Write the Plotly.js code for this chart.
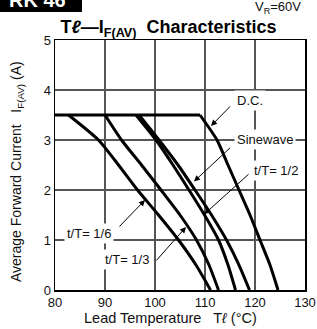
<!DOCTYPE html>
<html>
<head>
<meta charset="utf-8">
<script src="https://cdn.plot.ly/plotly-3.0.1.min.js"></script>
<style>html,body{margin:0;padding:0;background:#fff;}#chart{width:317px;height:329px;}</style>
</head>
<body>
<div id="chart"></div>
<script>
// Curve data (lead temperature °C vs IF(AV) A)
const flatX = [80, 109];
const flatY = [3.5, 3.5];
const dcX   = [109, 112.4, 114.6, 116.8, 119.0, 121.0, 123.0, 124.6];
const dcY   = [3.5, 3.0, 2.5, 2.0, 1.5, 1.0, 0.5, 0];
const sineX = [96.8, 100.8, 104.6, 108.0, 111.3, 114.3, 116.8, 118.9];
const sineY = [3.5, 3.0, 2.5, 2.0, 1.5, 1.0, 0.5, 0];
const halfX = [96.2, 100.2, 103.6, 106.8, 109.9, 112.7, 114.6, 116.1];
const halfY = [3.5, 3.0, 2.5, 2.0, 1.5, 1.0, 0.5, 0];
const thirdX = [90.0, 93.3, 97.3, 101.2, 105.0, 108.3, 110.8, 112.7];
const thirdY = [3.5, 3.0, 2.5, 2.0, 1.5, 1.0, 0.5, 0];
const sixthX = [82.7, 88.7, 92.7, 96.5, 100.7, 104.7, 108.2, 111.1];
const sixthY = [3.5, 3.0, 2.5, 2.0, 1.5, 1.0, 0.5, 0];

const seriesNames = ["D.C.", "Sinewave", "t/T= 1/2", "t/T= 1/3", "t/T= 1/6"];
const xTicks = [80, 90, 100, 110, 120, 130];
const yTicks = [0, 1, 2, 3, 4, 5];
const xTitle = 'Lead Temperature   T<i>ℓ</i> (°C)';
const yTitle = 'Average Forward Current   I<sub>F(AV)</sub> (A)';

// label text position [x, y] and arrow tail/tip [x0, y0, x1, y1]
const labelPos = [[119.0, 3.8], [122.0, 3.02], [124.2, 2.40], [94.4, 0.62], [86.8, 1.14]];
const arrows = [
  [115.3, 3.70, 111.2, 3.28],
  [115.3, 2.87, 107.8, 2.17],
  [119.0, 2.34, 109.9, 1.52],
  [100.0, 0.56, 106.2, 1.26],
  [92.6, 1.24, 98.0, 1.80]
];

const FONT = "Liberation Sans, Arial, Helvetica, sans-serif";
const xs = [dcX, sineX, halfX, thirdX, sixthX];
const ys = [dcY, sineY, halfY, thirdY, sixthY];

const traces = [{
  x: flatX, y: flatY, name: 'limit', type: 'scatter', mode: 'lines',
  line: {color: '#000', width: 3}, hoverinfo: 'skip', showlegend: false
}].concat(xs.map((x, i) => ({
  x: x, y: ys[i], name: seriesNames[i], type: 'scatter', mode: 'lines',
  line: {color: '#000', width: 3, shape: 'spline', smoothing: 0.6},
  hoverinfo: 'skip', showlegend: false
})));

const annotations = [];
labelPos.forEach((p, i) => {
  annotations.push({
    x: p[0], y: p[1], xref: 'x', yref: 'y', text: seriesNames[i], showarrow: false,
    font: {family: FONT, size: 13, color: '#111'}, bgcolor: '#fff', borderpad: 2
  });
});
arrows.forEach(a => {
  annotations.push({
    x: a[2], y: a[3], ax: a[0], ay: a[1], xref: 'x', yref: 'y', axref: 'x', ayref: 'y',
    text: '', showarrow: true, arrowhead: 2, arrowsize: 1.2, arrowwidth: 1, arrowcolor: '#000'
  });
});
annotations.push({
  xref: 'paper', yref: 'paper', x: 0.992, y: 1.13, xanchor: 'right', yanchor: 'middle',
  text: 'V<sub>R</sub>=60V', showarrow: false,
  font: {family: FONT, size: 13, color: '#111'}
});
annotations.push({
  xref: 'paper', yref: 'paper', x: -0.07, y: 1.16, xanchor: 'center', yanchor: 'middle',
  text: '<b>RK 46</b>', showarrow: false, font: {family: FONT, size: 20, color: '#fff'}
});
// axis titles, placed where the reference puts them
annotations.push({
  xref: 'paper', yref: 'paper', x: 0.46, y: -0.112, xanchor: 'center', yanchor: 'middle',
  text: xTitle, showarrow: false, font: {family: FONT, size: 14.5, color: '#111'}
});
annotations.push({
  xref: 'paper', yref: 'paper', x: -0.152, y: 0.472, xanchor: 'center', yanchor: 'middle',
  textangle: -90, text: yTitle, showarrow: false, font: {family: FONT, size: 14, color: '#111'}
});

const layout = {
  width: 317, height: 329,
  margin: {l: 55, r: 12, t: 40, b: 39},
  paper_bgcolor: '#fff', plot_bgcolor: '#fff',
  title: {
    text: '<b>T<i>ℓ</i>—I<sub>F(AV)</sub>  Characteristics</b>',
    font: {family: FONT, size: 18, color: '#000'},
    x: 0.454, xref: 'paper', xanchor: 'center', y: 0.918, yref: 'container', yanchor: 'middle'
  },
  xaxis: {
    range: [80, 130], tickvals: xTicks, ticktext: xTicks.map(String), ticks: '',
    showgrid: true, gridcolor: '#555', gridwidth: 1.5, zeroline: false,
    showline: true, linecolor: '#000', linewidth: 1.5, mirror: true,
    tickfont: {family: FONT, size: 13, color: '#111'},
    fixedrange: true
  },
  yaxis: {
    range: [0, 5], tickvals: yTicks, ticktext: yTicks.map(String), ticks: '',
    showgrid: true, gridcolor: '#555', gridwidth: 1.5, zeroline: false,
    showline: true, linecolor: '#000', linewidth: 1.5, mirror: true,
    tickfont: {family: FONT, size: 13, color: '#111'},
    fixedrange: true
  },
  shapes: [{
    type: 'rect', xref: 'paper', yref: 'paper', x0: -0.23, x1: 0.108, y0: 1.112, y1: 1.2,
    fillcolor: '#000', line: {width: 0}, layer: 'below'
  }],
  annotations: annotations
};

Plotly.newPlot('chart', traces, layout, {displayModeBar: false, staticPlot: true});
</script>
</body>
</html>
